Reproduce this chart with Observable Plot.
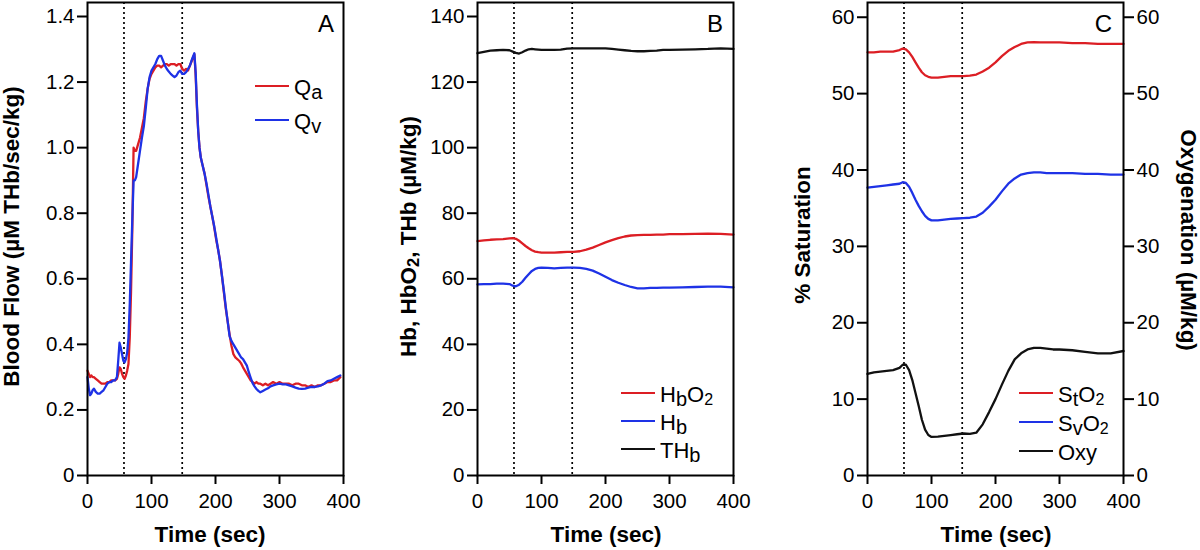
<!DOCTYPE html>
<html><head><meta charset="utf-8">
<script src="https://cdn.jsdelivr.net/npm/d3@7"></script>
<script src="https://cdn.jsdelivr.net/npm/@observablehq/plot@0.6"></script>
<style>
html,body{margin:0;padding:0;background:#fff;}
#wrap{position:relative;width:1200px;height:550px;overflow:hidden;background:#fff;}
#wrap > svg{position:absolute;top:0;}
</style></head><body><div id="wrap"></div>
<script>
// ---------- DATA ----------
const xTicks = [0, 100, 200, 300, 400];
const eventTimes = [57, 148];

// Panel A: blood flow (µM THb/sec/kg)
const tA = [0,2,4,6,8,10,13,16,19,22,
  25,28,31,34,37,40,43,46,48,50,
  52,54,56,58,60,62,64,66,68,70,
  72,74,76,79,82,85,88,91,94,97,
  100,103,106,109,112,115,118,121,124,127,
  130,133,136,139,142,145,148,151,154,157,
  160,163,165,167,169,171,173,175,177,180,
  183,186,189,192,195,198,201,204,207,210,
  213,216,219,222,225,228,231,234,237,240,
  243,246,249,252,255,258,261,264,267,270,
  274,278,282,286,290,295,300,305,310,315,
  320,325,330,335,340,345,350,355,360,365,
  370,375,380,385,390,395];
const qa = [0.32,0.31,0.30,0.305,0.30,0.30,0.295,0.29,0.285,0.28,
  0.28,0.28,0.285,0.285,0.29,0.29,0.29,0.295,0.31,0.33,
  0.325,0.31,0.30,0.295,0.305,0.32,0.34,0.42,0.56,0.75,
  1.00,0.99,0.99,1.01,1.03,1.06,1.09,1.14,1.18,1.21,
  1.225,1.235,1.245,1.25,1.25,1.245,1.25,1.255,1.255,1.25,
  1.255,1.255,1.255,1.25,1.255,1.255,1.24,1.235,1.24,1.235,
  1.25,1.265,1.275,1.285,1.22,1.12,1.05,1.00,0.97,0.945,
  0.92,0.885,0.85,0.82,0.79,0.757,0.72,0.69,0.655,0.61,
  0.56,0.51,0.47,0.43,0.395,0.37,0.36,0.355,0.35,0.342,
  0.33,0.32,0.31,0.30,0.29,0.285,0.28,0.285,0.28,0.28,
  0.275,0.28,0.275,0.28,0.285,0.28,0.285,0.28,0.28,0.28,
  0.275,0.28,0.28,0.275,0.275,0.27,0.275,0.27,0.275,0.275,
  0.28,0.285,0.285,0.29,0.29,0.30];
const qv = [0.30,0.265,0.245,0.25,0.26,0.265,0.255,0.25,0.25,0.255,
  0.26,0.27,0.28,0.285,0.285,0.29,0.29,0.30,0.35,0.405,
  0.39,0.37,0.35,0.345,0.355,0.375,0.42,0.52,0.65,0.78,
  0.90,0.90,0.91,0.95,0.99,1.03,1.065,1.12,1.18,1.215,
  1.235,1.245,1.255,1.27,1.28,1.28,1.265,1.25,1.24,1.232,
  1.225,1.22,1.215,1.22,1.23,1.235,1.225,1.225,1.23,1.24,
  1.25,1.268,1.278,1.288,1.23,1.13,1.05,1.00,0.97,0.945,
  0.92,0.89,0.855,0.82,0.79,0.76,0.725,0.69,0.655,0.61,
  0.565,0.515,0.47,0.425,0.41,0.40,0.39,0.38,0.37,0.36,
  0.355,0.345,0.335,0.315,0.298,0.282,0.272,0.264,0.258,0.254,
  0.258,0.262,0.266,0.272,0.275,0.278,0.28,0.278,0.278,0.275,
  0.272,0.268,0.265,0.264,0.265,0.268,0.27,0.27,0.272,0.275,
  0.28,0.288,0.29,0.295,0.30,0.305];

// Panels B and C share one time grid
const tBC = [0,10,20,30,40,50,55,60,65,70,
  75,80,85,90,95,100,110,120,130,140,
  150,160,170,180,190,200,210,220,230,240,
  250,260,270,280,290,300,320,340,360,380,400];
// Panel B (µM/kg)
const thb = [128.8,129.2,129.6,129.7,129.8,129.7,129.3,128.9,128.7,129.1,
  129.6,130.0,130.1,130.0,129.9,129.8,129.8,129.8,129.9,130.2,
  130.3,130.3,130.3,130.3,130.3,130.3,130.1,129.9,129.7,129.5,
  129.4,129.4,129.5,129.6,129.8,129.8,129.9,130.0,130.1,130.3,130.1];
const hbo2 = [71.5,71.7,71.9,72.0,72.1,72.3,72.4,72.2,71.6,70.8,
  70.0,69.3,68.7,68.3,68.1,68.0,68.0,68.0,68.1,68.2,
  68.2,68.4,68.9,69.5,70.3,71.1,71.8,72.4,72.9,73.2,
  73.3,73.4,73.4,73.5,73.5,73.6,73.6,73.7,73.8,73.7,73.5];
const hb = [58.3,58.4,58.4,58.5,58.5,58.4,57.9,57.7,58.2,59.1,
  60.3,61.4,62.4,63.0,63.3,63.4,63.3,63.2,63.3,63.4,
  63.4,63.3,63.0,62.5,61.6,60.6,59.6,58.8,58.1,57.5,
  57.1,57.1,57.2,57.2,57.3,57.3,57.4,57.5,57.6,57.6,57.4];
// Panel C
const sto2 = [55.4,55.4,55.5,55.5,55.5,55.7,55.9,55.8,55.4,54.8,
  54.1,53.4,52.8,52.4,52.2,52.1,52.1,52.2,52.3,52.3,
  52.3,52.35,52.5,52.9,53.4,54.1,54.9,55.6,56.1,56.5,
  56.7,56.75,56.7,56.7,56.7,56.7,56.6,56.6,56.5,56.5,56.5];
const svo2 = [37.7,37.8,37.9,38.0,38.1,38.2,38.4,38.3,37.8,37.0,
  36.1,35.3,34.6,34.0,33.6,33.4,33.4,33.5,33.6,33.65,
  33.7,33.75,33.9,34.4,35.2,36.1,37.2,38.2,38.9,39.4,
  39.6,39.7,39.7,39.6,39.6,39.6,39.6,39.5,39.5,39.4,39.4];
const oxy = [13.3,13.5,13.6,13.7,13.8,14.1,14.5,14.5,13.8,12.5,
  10.8,9.1,7.3,6.0,5.3,5.05,5.1,5.2,5.3,5.4,
  5.5,5.45,5.6,6.7,8.3,10.0,11.9,13.7,15.2,16.0,
  16.5,16.7,16.7,16.6,16.5,16.5,16.4,16.2,16.0,16.0,16.3];

const yTicksA = [0,0.2,0.4,0.6,0.8,1.0,1.2,1.4];
const yTicksB = [0,20,40,60,80,100,120,140];
const yTicksC = [0,10,20,30,40,50,60];

// ---------- STYLE ----------
const FONT = "'Liberation Sans', Arial, Helvetica, sans-serif";
const RED = "#dc1e24", BLUE = "#1e32e6", BLACK = "#111";

function panel({left, width, marginRight, yDomain, yTicks, yFormat, series, rightAxis}) {
  const marks = [
    Plot.ruleX(eventTimes, {stroke: "black", strokeWidth: 1.7, strokeDasharray: "2,3"}),
    ...series.map(s => Plot.line(s.y, {x: s.x, y: s.y, stroke: s.color, strokeWidth: 2.3})),
    Plot.axisX({ticks: xTicks, tickSize: 9, tickPadding: 9, strokeWidth: 2, label: null}),
    Plot.axisY({ticks: yTicks, tickFormat: yFormat, tickSize: 10, tickPadding: 3, strokeWidth: 2, label: null}),
    Plot.frame({stroke: "black", strokeWidth: 2})
  ];
  if (rightAxis) marks.push(Plot.axisY({anchor: "right", ticks: yTicks, tickFormat: yFormat, tickSize: 10, tickPadding: 3, strokeWidth: 2, label: null}));
  const svg = Plot.plot({
    width, height: 550,
    marginLeft: 87, marginRight, marginTop: 2, marginBottom: 75,
    x: {domain: [0, 400]},
    y: {domain: yDomain},
    style: {fontFamily: FONT, fontSize: "20.5px", color: "black", background: "white", overflow: "visible"},
    marks
  });
  svg.style.left = left + "px";
  document.getElementById("wrap").appendChild(svg);
  return d3.select(svg);
}

function txt(sel, x, y, parts, {size = 22, weight = "normal", anchor = "start", rotate = 0} = {}) {
  const t = sel.append("text")
    .attr("transform", `translate(${x},${y})` + (rotate ? ` rotate(${rotate})` : ""))
    .attr("text-anchor", anchor)
    .attr("font-family", FONT)
    .attr("font-size", size)
    .attr("font-weight", weight)
    .attr("fill", "black");
  let shift = 0;
  for (const [s, sub] of parts) {
    const ts = t.append("tspan").text(s);
    let target = 0, fs = size;
    if (sub === 1) { target = 4; fs = size - 2; }
    if (sub === 2) { target = 2.5; fs = size - 6; }
    ts.attr("font-size", fs);
    if (target !== shift) { ts.attr("dy", target - shift); shift = target; }
  }
  return t;
}

function legend(sel, x1, x2, rows) {
  for (const r of rows) {
    sel.append("line").attr("x1", x1).attr("x2", x2).attr("y1", r.y).attr("y2", r.y)
      .attr("stroke", r.color).attr("stroke-width", 2);
    txt(sel, x2 + 5, r.y + 9, r.label, {size: 22});
  }
}

const fmtA = d => d === 0 ? "0" : d.toFixed(1);

// Panel A
const A = panel({left: 0, width: 390, marginRight: 47, yDomain: [0, 1.4427], yTicks: yTicksA, yFormat: fmtA,
  series: [{x: tA, y: qa, color: RED}, {x: tA, y: qv, color: BLUE}]});
txt(A, 19, 236.5, [["Blood Flow (µM THb/sec/kg)"]], {size: 22.5, weight: "bold", anchor: "middle", rotate: -90});
txt(A, 210, 542, [["Time (sec)"]], {size: 22.5, weight: "bold", anchor: "middle"});
txt(A, 334, 32, [["A"]], {size: 24, anchor: "end"});
legend(A, 255, 289, [
  {y: 86, color: RED, label: [["Q"], ["a", 1]]},
  {y: 120, color: BLUE, label: [["Q"], ["v", 1]]}
]);

// Panel B
const B = panel({left: 390, width: 390, marginRight: 47, yDomain: [0, 144.27], yTicks: yTicksB, yFormat: d => String(d),
  series: [{x: tBC, y: thb, color: BLACK}, {x: tBC, y: hbo2, color: RED}, {x: tBC, y: hb, color: BLUE}]});
txt(B, 26, 236.5, [["Hb, HbO"], ["2", 2], [", THb (µM/kg)"]], {size: 22.5, weight: "bold", anchor: "middle", rotate: -90});
txt(B, 216, 542, [["Time (sec)"]], {size: 22.5, weight: "bold", anchor: "middle"});
txt(B, 333, 32, [["B"]], {size: 24, anchor: "end"});
legend(B, 231, 265, [
  {y: 393, color: RED, label: [["H"], ["b", 1], ["O"], ["2", 2]]},
  {y: 421, color: BLUE, label: [["H"], ["b", 1]]},
  {y: 449, color: BLACK, label: [["TH"], ["b", 1]]}
]);

// Panel C
const C = panel({left: 780, width: 420, marginRight: 77, yDomain: [0, 61.93], yTicks: yTicksC, yFormat: d => String(d), rightAxis: true,
  series: [{x: tBC, y: sto2, color: RED}, {x: tBC, y: svo2, color: BLUE}, {x: tBC, y: oxy, color: BLACK}]});
txt(C, 30, 235, [["% Saturation"]], {size: 22.5, weight: "bold", anchor: "middle", rotate: -90});
txt(C, 401, 240, [["Oxygenation (µM/kg)"]], {size: 22.5, weight: "bold", anchor: "middle", rotate: 90});
txt(C, 216, 542, [["Time (sec)"]], {size: 22.5, weight: "bold", anchor: "middle"});
txt(C, 332, 32, [["C"]], {size: 24, anchor: "end"});
legend(C, 239, 273, [
  {y: 393, color: RED, label: [["S"], ["t", 1], ["O"], ["2", 2]]},
  {y: 422, color: BLUE, label: [["S"], ["v", 1], ["O"], ["2", 2]]},
  {y: 451, color: BLACK, label: [["Oxy"]]}
]);
</script></body></html>
